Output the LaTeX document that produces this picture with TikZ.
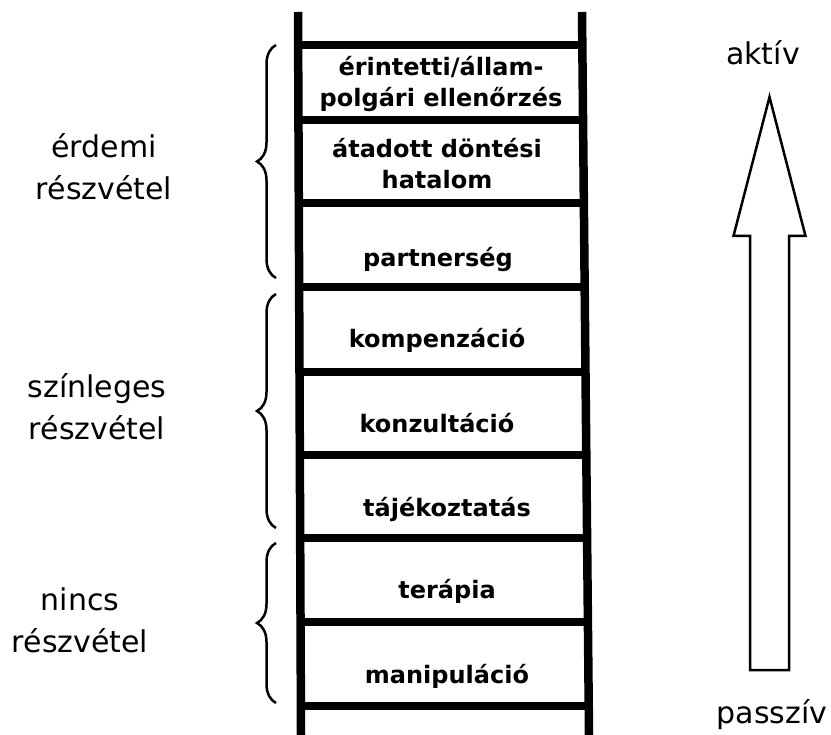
\documentclass[tikz,border=0pt]{standalone}
\usepackage{fontspec}
\setmainfont{DejaVu Sans}
\usepackage{tikz}
\usetikzlibrary{calc, decorations.pathreplacing}
\tikzstyle{rail} = [line width=8.5pt]
\tikzstyle{rung} = [line width=7.5pt]
\tikzstyle{level} = [font=\bfseries\fontsize{24}{31}\selectfont, align=center, anchor=base, inner sep=0pt]
\tikzstyle{group} = [font=\fontsize{30}{42}\selectfont, align=center, anchor=base, inner sep=0pt]
\tikzstyle{bracket} = [decorate, decoration={brace, amplitude=19pt}, line width=2.5pt]
\tikzstyle{bigarrow} = [draw, line width=2.5pt, fill=white]

\begin{document}
\begin{tikzpicture}[x=1pt, y=-1pt]
            \useasboundingbox (0,0) rectangle (831,735);
            % ladder
            \coordinate (railLtop) at (298,12);
            \coordinate (railLbot) at (301,735);
            \coordinate (railRtop) at (582,12);
            \coordinate (railRbot) at (589,735);
            \draw [rail] (railLtop) -- (railLbot);
            \draw [rail] (railRtop) -- (railRbot);
            \foreach \y in {45,120,203,287,372,455,538,622,706}
                \draw [rung] ($(railLtop)!{(\y-12)/723}!(railLbot)$) -- ($(railRtop)!{(\y-12)/723}!(railRbot)$);
            % rungs' labels (base = last line)
            \node (control) [level] at (441,107) {érintetti/állam-\\polgári ellenőrzés};
            \node (power) [level] at (437,189) {átadott döntési\\hatalom};
            \node (partner) [level] at (438,267) {partnerség};
            \node (placate) [level] at (437,348) {kompenzáció};
            \node (consult) [level] at (437,433) {konzultáció};
            \node (inform) [level] at (447,517) {tájékoztatás};
            \node (therapy) [level] at (447,598) {terápia};
            \node (manip) [level] at (447,683) {manipuláció};
            % groups
            \coordinate (fulltop) at (276,45);
            \coordinate (fullbot) at (276,278);
            \coordinate (tokentop) at (276,294);
            \coordinate (tokenbot) at (276,528);
            \coordinate (nonetop) at (276,543);
            \coordinate (nonebot) at (276,703);
            \draw [bracket] (fullbot) -- (fulltop);
            \draw [bracket] (tokenbot) -- (tokentop);
            \draw [bracket] (nonebot) -- (nonetop);
            \node (full) [group] at (104,200) {érdemi\\részvétel};
            \node (token) [group] at (97,440) {színleges\\részvétel};
            \node (none) [group] at (80,652) {nincs\\részvétel};
            % arrow
            \coordinate (tip) at (769.5,97);
            \coordinate (headL) at (733.5,236);
            \coordinate (headR) at (805.5,236);
            \coordinate (shaftLtop) at (750,236);
            \coordinate (shaftRtop) at (789,236);
            \coordinate (shaftLbot) at (750,670);
            \coordinate (shaftRbot) at (789,670);
            \draw [bigarrow] (tip) -- (headR) -- (shaftRtop) -- (shaftRbot) -- (shaftLbot) -- (shaftLtop) -- (headL) -- cycle;
            \node (active) [group] at (763,65) {aktív};
            \node (passive) [group] at (772,723) {passzív};
        \end{tikzpicture}
\end{document}
